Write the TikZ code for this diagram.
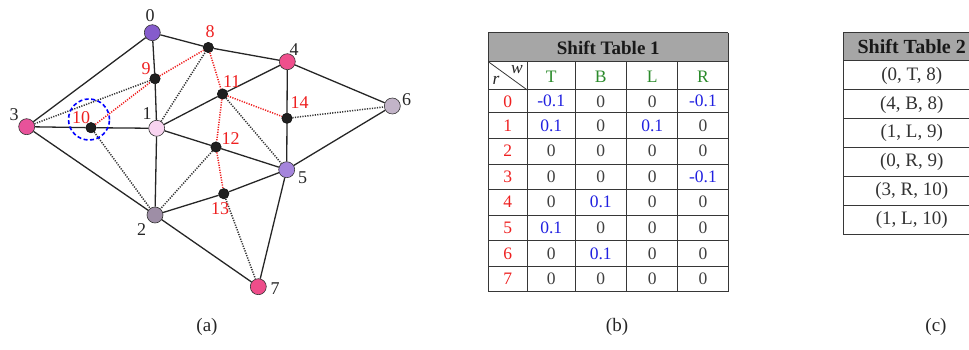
\documentclass[tikz,border=0pt]{standalone}
\usepackage{fontspec}
\setmainfont{Liberation Serif}
\definecolor{cA}{RGB}{133,92,204}
\definecolor{cB}{RGB}{248,212,240}
\definecolor{cC}{RGB}{158,142,166}
\definecolor{cD}{RGB}{232,82,154}
\definecolor{cE}{RGB}{239,79,140}
\definecolor{cF}{RGB}{165,133,220}
\definecolor{cG}{RGB}{194,180,200}
\definecolor{cH}{RGB}{238,77,138}
\definecolor{tred}{RGB}{238,32,32}
\definecolor{tgreen}{RGB}{42,138,42}
\definecolor{tblue}{RGB}{32,32,224}
\definecolor{hdr}{RGB}{166,166,166}
\definecolor{grid}{RGB}{55,55,55}
\tikzset{
  big/.style={circle, draw=black!80, line width=0.6pt, minimum size=16pt, inner sep=0pt},
  sm/.style={circle, fill=black!88, draw=black, line width=0.4pt, minimum size=10.5pt, inner sep=0pt},
  edge/.style={line width=1.3pt, black!85},
  dotedge/.style={line width=1.5pt, dash pattern=on 1.2pt off 1.3pt, black!80},
  rededge/.style={line width=1.5pt, dash pattern=on 1.2pt off 1.3pt, tred},
  lbl/.style={font=\fontsize{18}{18}\selectfont, inner sep=0pt, text=black!85},
  rlbl/.style={font=\fontsize{18}{18}\selectfont, inner sep=0pt, text=tred},
  cell/.style={font=\fontsize{17.5}{17.5}\selectfont, inner sep=0pt, text=black!75},
  cellb/.style={font=\fontsize{19}{19}\selectfont, inner sep=0pt, text=black!80},
  captxt/.style={font=\fontsize{19}{19}\selectfont, inner sep=0pt, text=black!85},
  title/.style={font=\fontsize{19}{19}\selectfont\bfseries, inner sep=0pt, text=black!90},
  gridline/.style={line width=1pt, grid},
}
\begin{document}
\begin{tikzpicture}[x=1pt,y=-1pt]
\useasboundingbox (0,0) rectangle (969,350);
\begin{scope}
\clip (0,0) rectangle (969,350);
% ---------- (a) graph ----------
\node[big, fill=cA] (n0) at (152.3,32.7) {};
\node[big, fill=cB] (n1) at (156.7,128.3) {};
\node[big, fill=cC] (n2) at (155,215) {};
\node[big, fill=cD] (n3) at (26.7,126.7) {};
\node[big, fill=cE] (n4) at (287.3,61.7) {};
\node[big, fill=cF] (n5) at (286.7,169.7) {};
\node[big, fill=cG] (n6) at (392.3,106) {};
\node[big, fill=cH] (n7) at (258.3,286.7) {};
\node[sm] (n8) at (208.3,47.5) {};
\node[sm] (n9) at (155,78.7) {};
\node[sm] (n10) at (91,127.7) {};
\node[sm] (n11) at (222.5,94) {};
\node[sm] (n12) at (216,147) {};
\node[sm] (n13) at (223.8,193.7) {};
\node[sm] (n14) at (287,118.3) {};

% solid edges
\draw[edge] (n0) -- (n8);
\draw[edge] (n8) -- (n4);
\draw[edge] (n0) -- (n9);
\draw[edge] (n9) -- (n1);
\draw[edge] (n0) -- (n3);
\draw[edge] (n3) -- (n10);
\draw[edge] (n10) -- (n1);
\draw[edge] (n3) -- (n2);
\draw[edge] (n1) -- (n2);
\draw[edge] (n1) -- (n11);
\draw[edge] (n11) -- (n4);
\draw[edge] (n4) -- (n14);
\draw[edge] (n14) -- (n5);
\draw[edge] (n4) -- (n6);
\draw[edge] (n6) -- (n5);
\draw[edge] (n1) -- (n12);
\draw[edge] (n12) -- (n5);
\draw[edge] (n2) -- (n13);
\draw[edge] (n13) -- (n5);
\draw[edge] (n2) -- (n7);
\draw[edge] (n5) -- (n7);
% black dotted
\draw[dotedge] (n3) -- (n9);
\draw[dotedge] (n1) -- (n8);
\draw[dotedge] (n10) -- (n2);
\draw[dotedge] (n11) -- (n5);
\draw[dotedge] (n14) -- (n6);
\draw[dotedge] (n12) -- (n2);
\draw[dotedge] (n13) -- (n7);
% red dotted
\draw[rededge] (n10) -- (n9);
\draw[rededge] (n9) -- (n8);
\draw[rededge] (n8) -- (n11);
\draw[rededge] (n11) -- (n12);
\draw[rededge] (n12) -- (n13);
\draw[rededge] (n11) -- (n14);
% blue dashed circle
\node[circle, draw=blue, dash pattern=on 4pt off 2.5pt, line width=1.6pt, minimum size=41pt, inner sep=0pt] (hl) at (89,119.5) {};

% labels
\node[lbl] (l0) at (150,16) {0};
\node[lbl] (l1) at (147,114) {1};
\node[lbl] (l2) at (141.7,230) {2};
\node[lbl] (l3) at (14,115) {3};
\node[lbl] (l4) at (294,49.3) {4};
\node[lbl] (l5) at (302.5,178) {5};
\node[lbl] (l6) at (406.7,99.3) {6};
\node[lbl] (l7) at (275,288.3) {7};
\node[rlbl] (l8) at (210,31.7) {8};
\node[rlbl] (l9) at (146,68.5) {9};
\node[rlbl] (l10) at (81,117.5) {10};
\node[rlbl] (l11) at (231.7,81.7) {11};
\node[rlbl] (l12) at (230.5,138.3) {12};
\node[rlbl] (l13) at (220,208.3) {13};
\node[rlbl] (l14) at (299.5,103) {14};

% ---------- (b) Shift Table 1 ----------
\fill[hdr] (488.3,32.7) rectangle (728.3,61.7);
\node[title] (t1) at (608.3,47.5) {Shift Table 1};
\foreach \y in {32.7,61.7,90,112.7,138.3,164,189.3,215,240.7,266.7,291.7}
  \draw[gridline] (488.3,\y) -- (728.3,\y);
\foreach \x in {488.3,728.3}
  \draw[gridline] (\x,32.7) -- (\x,291.7);
\foreach \x in {527.3,575,626.7,677.7}
  \draw[gridline] (\x,61.7) -- (\x,291.7);
\draw[line width=0.8pt, grid] (488.3,61.7) -- (527.3,90);
\node[cell, text=black!85, font=\fontsize{17.5}{17.5}\selectfont\itshape] (tw) at (517,70) {w};
\node[cell, text=black!85, font=\fontsize{17.5}{17.5}\selectfont\itshape] (tr) at (496,80.5) {r};
% column headers
\node[cell, text=tgreen] (hT) at (551.2,76.5) {T};
\node[cell, text=tgreen] (hB) at (600.8,76.5) {B};
\node[cell, text=tgreen] (hL) at (652.2,76.5) {L};
\node[cell, text=tgreen] (hR) at (703,76.5) {R};
% row labels and values
\foreach \r/\yc/\a/\ca/\b/\cb/\c/\cc/\d/\cd in {
  0/101.3/-0.1/tblue/0/black!75/0/black!75/-0.1/tblue,
  1/125.5/0.1/tblue/0/black!75/0.1/tblue/0/black!75,
  2/151.2/0/black!75/0/black!75/0/black!75/0/black!75,
  3/176.7/0/black!75/0/black!75/0/black!75/-0.1/tblue,
  4/202.2/0/black!75/0.1/tblue/0/black!75/0/black!75,
  5/227.8/0.1/tblue/0/black!75/0/black!75/0/black!75,
  6/253.7/0/black!75/0.1/tblue/0/black!75/0/black!75,
  7/279.2/0/black!75/0/black!75/0/black!75/0/black!75}{
  \node[cell, text=tred] (rl\r) at (507.8,\yc) {\r};
  \node[cell, text=\ca] (v\r T) at (551.2,\yc) {\a};
  \node[cell, text=\cb] (v\r B) at (600.8,\yc) {\b};
  \node[cell, text=\cc] (v\r L) at (652.2,\yc) {\c};
  \node[cell, text=\cd] (v\r R) at (703,\yc) {\d};
}

% ---------- (c) Shift Table 2 ----------
\fill[hdr] (843.3,32.5) rectangle (980,61);
\foreach \y in {32.5,61,90,119,147.7,176.7,205.7,234.3}
  \draw[gridline] (843.3,\y) -- (980,\y);
\draw[gridline] (843.3,32.5) -- (843.3,234.3);
\draw[gridline] (980,32.5) -- (980,234.3);
\node[title, font=\fontsize{20}{20}\selectfont\bfseries] (t2) at (911.7,46.8) {Shift Table 2};
\foreach \i/\yc/\t in {1/75.5/{(0, T, 8)},2/104.5/{(4, B, 8)},3/133.3/{(1, L, 9)},4/162.2/{(0, R, 9)},5/191.2/{(3, R, 10)},6/220/{(1, L, 10)}}{
  \node[cellb] (s\i) at (911.7,\yc) {\t};
}

% captions
\node[captxt] (ca) at (207,327) {(a)};
\node[captxt] (cb) at (617,327) {(b)};
\node[captxt] (cc) at (936,327) {(c)};
\end{scope}
\end{tikzpicture}
\end{document}
